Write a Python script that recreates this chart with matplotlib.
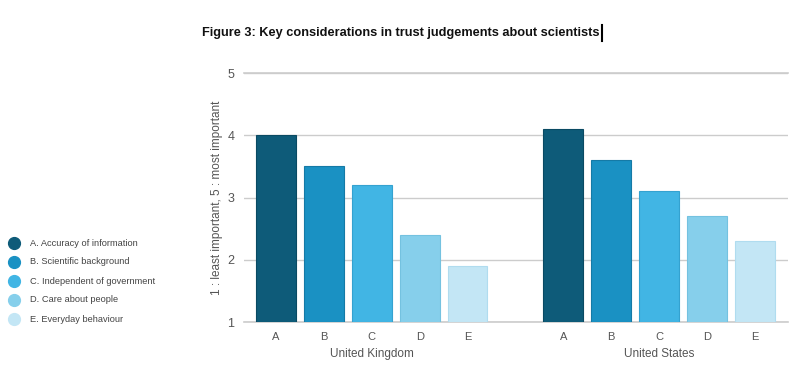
import matplotlib
matplotlib.use("Agg")
import matplotlib.pyplot as plt
from matplotlib.lines import Line2D

plt.rcParams['font.family'] = ['Liberation Sans', 'DejaVu Sans']

title = "Figure 3: Key considerations in trust judgements about scientists"
groups = ["United Kingdom", "United States"]
categories = ["A", "B", "C", "D", "E"]
legend_labels = ["A. Accuracy of information", "B. Scientific background",
                 "C. Independent of government", "D. Care about people",
                 "E. Everyday behaviour"]
uk_values = [4.0, 3.5, 3.2, 2.4, 1.9]
us_values = [4.1, 3.6, 3.1, 2.7, 2.3]
colors = ["#0e5b79", "#1a91c3", "#41b5e4", "#86cfeb", "#c3e6f5"]
edge_colors = ["#0a4a63", "#157aa6", "#34a2d0", "#74c2e0", "#b0dcef"]
yticks = [1, 2, 3, 4, 5]
ylabel = "1 : least important, 5 : most important"

fig = plt.figure(figsize=(8, 3.71), dpi=100)
ax = fig.add_axes([0.305, 0.132, 0.68, 0.671])

width = 0.833
for g, vals in enumerate([uk_values, us_values]):
    offset = g * 6
    for i, v in enumerate(vals):
        ax.bar(offset + i, v - 1, bottom=1, width=width, color=colors[i],
               edgecolor=edge_colors[i], linewidth=0.8, zorder=3)

ax.set_xlim(-0.667, 10.69)
ax.set_ylim(1, 5)
ax.set_yticks(yticks)
ax.set_yticklabels([str(t) for t in yticks], fontsize=9, color="#555555")
ax.tick_params(axis='y', length=0, pad=7)
ax.yaxis.grid(True, color="#cccccc", linewidth=1, zorder=0)
ax.axhline(1, color="#cccccc", linewidth=1.2, zorder=1, clip_on=False)
ax.axhline(5, color="#cccccc", linewidth=1.2, zorder=1, clip_on=False)
ax.set_axisbelow(True)
for s in ax.spines.values():
    s.set_visible(False)

xt = [g * 6 + i for g in range(2) for i in range(5)]
ax.set_xticks(xt)
ax.set_xticklabels(categories * 2, fontsize=8, color="#555555")
ax.tick_params(axis='x', length=0, pad=7)

for g, name in enumerate(groups):
    ax.text(g * 6 + 2, -0.105, name, transform=ax.get_xaxis_transform(),
            ha='center', va='top', fontsize=8.5, color="#555555")

ax.set_ylabel(ylabel, fontsize=8.5, color="#555555", labelpad=3)

fig.text(202 / 800, 1 - 33 / 371, title, fontsize=9.2, fontweight='bold',
         ha='left', va='center', color="#111111")
fig.add_artist(Line2D([602 / 800, 602 / 800], [1 - 25 / 371, 1 - 41 / 371],
                      transform=fig.transFigure, color="black", linewidth=1.5))

for i, lab in enumerate(legend_labels):
    y = 1 - (243 + 19 * i) / 371
    fig.add_artist(Line2D([14 / 800], [y], marker='o', markersize=8.5,
                          color=colors[i], linestyle='None',
                          transform=fig.transFigure))
    fig.text(30 / 800, y, lab, fontsize=6.7, color="#444444",
             ha='left', va='center')

fig.savefig("out.png", dpi=100)
